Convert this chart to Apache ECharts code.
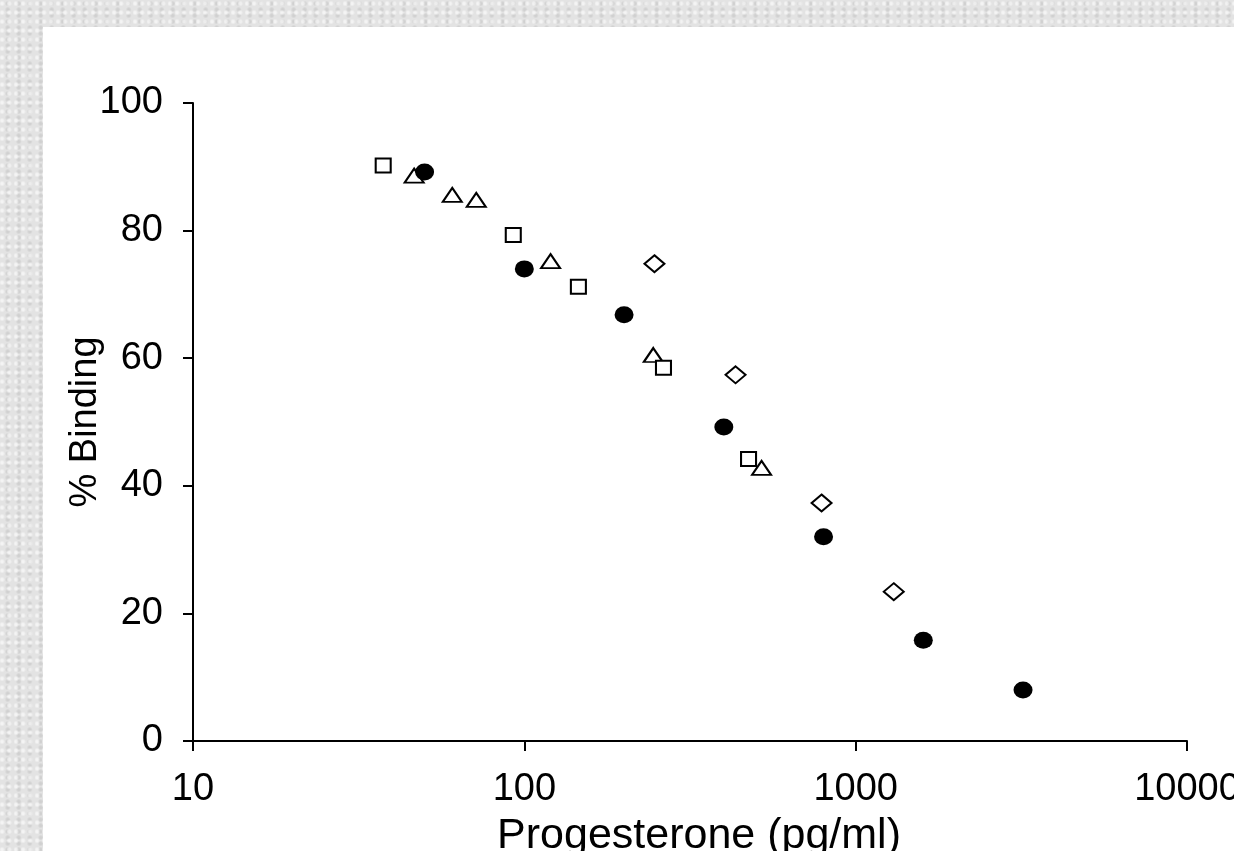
<!DOCTYPE html>
<html>
<head>
<meta charset="utf-8">
<script src="https://cdn.jsdelivr.net/npm/echarts@6/dist/echarts.min.js"></script>
<style>
html, body { margin: 0; padding: 0; }
body {
    width: 1234px; height: 851px; overflow: hidden;
    background:
        radial-gradient(circle at 30% 40%, rgba(255,255,255,0.6) 1px, transparent 3px) 0 0 / 7px 9px,
        radial-gradient(circle at 70% 60%, rgba(190,190,190,0.5) 1px, transparent 3px) 0 0 / 11px 6px,
        #e3e3e3;
}
#panel { position: absolute; left: 43px; top: 27px; right: 0; bottom: 0; background: #fff; }
#main { position: absolute; left: 0; top: 0; width: 1234px; height: 851px; }
</style>
</head>
<body>
<div id="panel"></div>
<div id="main"></div>
<script>
// filled circles
var circleX = [50, 100, 200, 400, 800, 1600, 3200];
var circleY = [89.2, 74.0, 66.8, 49.2, 32.0, 15.8, 8.0];
// open squares
var squareX = [37.5, 92.6, 145.6, 263, 475];
var squareY = [90.2, 79.3, 71.2, 58.5, 44.2];
// open triangles
var triangleX = [46.5, 60.6, 71.6, 120, 245, 520];
var triangleY = [88.6, 85.6, 84.8, 75.2, 60.5, 42.8];
// open diamonds
var diamondX = [247, 434, 789, 1303];
var diamondY = [74.8, 57.4, 37.3, 23.4];

var xTicks = [10, 100, 1000, 10000];
var yTicks = [0, 20, 40, 60, 80, 100];

function pairs(xs, ys) {
    return xs.map(function (x, i) { return [x, ys[i]]; });
}

var font = "'Liberation Sans', Arial, sans-serif";
var openStyle = { color: '#fff', borderColor: '#000', borderWidth: 2, opacity: 1 };

var myChart = echarts.init(document.getElementById('main'));
var option = {
    animation: false,
    backgroundColor: 'transparent',
    grid: { left: 193, right: 47, top: 103, bottom: 110, outerBoundsMode: 'none', containLabel: false },
    xAxis: {
        type: 'log',
        logBase: 10,
        min: xTicks[0],
        max: xTicks[xTicks.length - 1],
        name: 'Progesterone (pg/ml)',
        nameLocation: 'middle',
        nameGap: 74,
        nameMoveOverlap: false,
        nameTextStyle: { fontFamily: font, fontSize: 43, color: '#000', padding: [0, 0, 0, 18] },
        axisLine: { lineStyle: { color: '#000', width: 2 } },
        axisTick: { inside: false, length: 10, lineStyle: { color: '#000', width: 2 } },
        minorTick: { show: false },
        splitLine: { show: false },
        axisLabel: {
            margin: 30,
            fontFamily: font, fontSize: 38, color: '#000',
            formatter: function (v) { return String(Math.round(v)); }
        }
    },
    yAxis: {
        type: 'value',
        min: yTicks[0],
        max: yTicks[yTicks.length - 1],
        interval: 20,
        name: '% Binding',
        nameLocation: 'middle',
        nameGap: 88,
        nameMoveOverlap: false,
        nameTextStyle: { fontFamily: font, fontSize: 38, color: '#000' },
        axisLine: { show: true, lineStyle: { color: '#000', width: 2 } },
        axisTick: { show: true, inside: false, length: 10, lineStyle: { color: '#000', width: 2 } },
        splitLine: { show: false },
        axisLabel: { margin: 30, fontFamily: font, fontSize: 38, color: '#000' }
    },
    series: [
        {
            name: 'triangle', type: 'scatter', data: pairs(triangleX, triangleY),
            symbol: 'triangle', symbolSize: [19, 14], itemStyle: openStyle
        },
        {
            name: 'diamond', type: 'scatter', data: pairs(diamondX, diamondY),
            symbol: 'diamond', symbolSize: [20, 17], itemStyle: openStyle
        },
        {
            name: 'square', type: 'scatter', data: pairs(squareX, squareY),
            symbol: 'rect', symbolSize: [15, 14], itemStyle: openStyle
        },
        {
            name: 'circle', type: 'scatter', data: pairs(circleX, circleY),
            symbol: 'circle', symbolSize: [19, 17], itemStyle: { color: '#000', opacity: 1 }
        }
    ]
};
myChart.setOption(option);
</script>
</body>
</html>
